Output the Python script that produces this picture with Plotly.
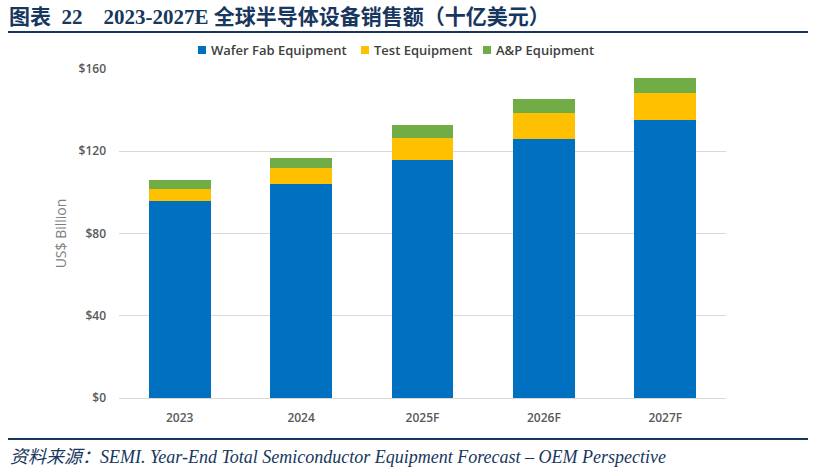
import plotly.graph_objects as go

years = ["2023", "2024", "2025F", "2026F", "2027F"]
wafer_fab = [95.8, 104.1, 115.8, 126.0, 135.2]
test_eq = [5.8, 7.9, 10.8, 12.6, 13.3]
ap_eq = [4.4, 4.7, 6.3, 6.7, 7.0]
y_ticks = [0, 40, 80, 120, 160]
y_tick_text = ["$0", "$40", "$80", "$120", "$160"]
series_names = ["Wafer Fab Equipment", "Test Equipment", "A&P Equipment"]
series_colors = ["#0070C0", "#FFC000", "#70AD47"]

W, H = 814, 472
L, R, T, B = 119, 726, 69, 398  # plot area in pixels


def px(x):
    return (x - L) / (R - L)


def py(y):
    return (B - y) / (B - T)


fig = go.Figure()
for name, vals, col in zip(series_names, [wafer_fab, test_eq, ap_eq], series_colors):
    fig.add_trace(go.Bar(x=years, y=vals, name=name, showlegend=False,
                         marker=dict(color=col, line=dict(width=0))))

tick_font = dict(size=12, color="#595959", family="Open Sans, sans-serif", weight=600)

fig.update_layout(
    width=W, height=H,
    barmode="stack", bargap=0.49,
    paper_bgcolor="white", plot_bgcolor="white",
    margin=dict(l=L, r=W - R, t=T, b=H - B, pad=0),
    font=dict(family="Open Sans, Noto Sans, sans-serif", color="#595959"),
    xaxis=dict(showline=True, linecolor="#D9D9D9", linewidth=1, ticks="",
               tickfont=tick_font, ticklabelstandoff=9, showgrid=False),
    yaxis=dict(range=[0, 160], tickvals=y_ticks, ticktext=y_tick_text,
               showgrid=True, gridcolor="#D9D9D9", gridwidth=1, zeroline=False,
               tickfont=tick_font, ticklabelstandoff=12,
               title=dict(text="US$ Billion", font=dict(size=14, color="#7F7F7F"), standoff=8)),
)

# manual legend (small squares next to labels)
legend_x = [198, 361, 483]
for x0, name, col in zip(legend_x, series_names, series_colors):
    fig.add_shape(type="rect", xref="paper", yref="paper",
                  x0=px(x0), x1=px(x0 + 8), y0=py(46), y1=py(54),
                  fillcolor=col, line=dict(width=0))
    fig.add_annotation(xref="paper", yref="paper", x=px(x0 + 11), y=py(50),
                       xanchor="left", yanchor="middle", text=name, showarrow=False,
                       font=dict(size=13, color="#404040", family="Open Sans, sans-serif", weight=600))

# title
nb = "\u00a0"
fig.add_annotation(xref="paper", yref="paper", x=px(7), y=py(17), xanchor="left", yanchor="middle",
                   text="<b>图表" + nb * 2 + "22" + nb * 4 + "2023-2027E 全球半导体设备销售额（十亿美元）</b>",
                   showarrow=False,
                   font=dict(size=21, color="#17375E", family="Liberation Serif, Noto Sans CJK SC"))
# footer
fig.add_annotation(xref="paper", yref="paper", x=px(8), y=py(457), xanchor="left", yanchor="middle",
                   text="<i>资料来源：SEMI. Year-End Total Semiconductor Equipment Forecast – OEM Perspective</i>",
                   showarrow=False,
                   font=dict(size=18, color="#17375E", family="Liberation Serif, Noto Sans CJK SC"))
# rules
fig.add_shape(type="line", xref="paper", yref="paper", x0=px(8), x1=px(808), y0=py(32), y1=py(32),
              line=dict(color="#17375E", width=2))
fig.add_shape(type="line", xref="paper", yref="paper", x0=px(8), x1=px(808), y0=py(439), y1=py(439),
              line=dict(color="#17375E", width=2))

fig.write_html("out.html")
